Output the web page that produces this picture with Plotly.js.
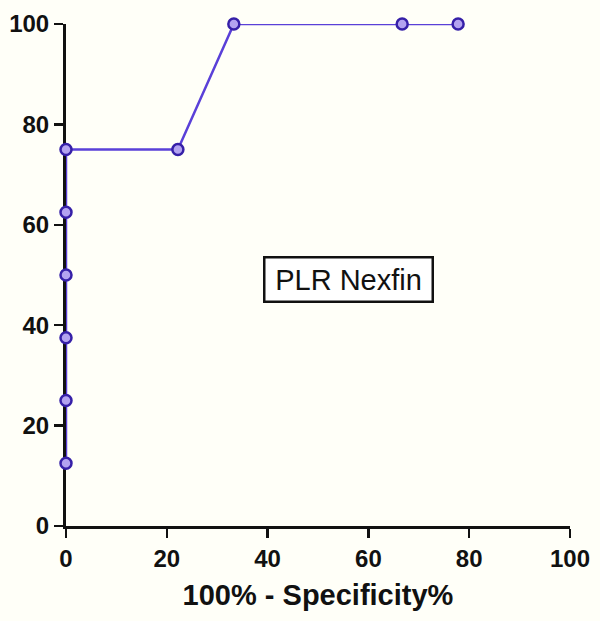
<!DOCTYPE html>
<html>
<head>
<meta charset="utf-8">
<script src="https://cdn.plot.ly/plotly-3.0.1.min.js"></script>
<style>
  html, body { margin: 0; padding: 0; background: #fffff8; }
  #graph { width: 600px; height: 621px; }
</style>
</head>
<body>
<div id="graph"></div>
<script>
// *********************************************************************************************
// DATA

const X_SPEC = [0, 0, 0, 0, 0, 0, 22.2, 33.3, 66.7, 77.8]  // 100% - Specificity%
const Y_SENS = [12.5, 25, 37.5, 50, 62.5, 75, 75, 100, 100, 100]  // Sensitivity%
const TICKS = [0, 20, 40, 60, 80, 100]
const LABEL = 'PLR Nexfin'


// *********************************************************************************************
// TRACE

let trace = {
    type: 'scatter',
    mode: 'lines+markers',
    x: X_SPEC,
    y: Y_SENS,
    cliponaxis: false,
    line: { color: '#5a40d8', width: 2.5 },
    marker: {
        symbol: 'circle',
        size: 11,
        color: '#b3a3f0',
        line: { color: '#3620a8', width: 2.5 }
    },
    hoverinfo: 'skip'
};


// *********************************************************************************************
// LAYOUT

const FONT = 'Liberation Sans, Arial, sans-serif';
const tickFont = { family: FONT, size: 24, color: '#111', weight: 'bold' };

let layout = {
    width: 600,
    height: 621,
    margin: { t: 24, r: 30, b: 95, l: 66 },
    paper_bgcolor: '#fffff8',
    plot_bgcolor: '#fffff8',
    showlegend: false,

    xaxis: {
        range: [0, 100],
        tickvals: TICKS,
        ticks: 'outside',
        ticklen: 9,
        tickwidth: 2.5,
        tickcolor: '#111',
        showline: true,
        linecolor: '#111',
        linewidth: 3,
        showgrid: false,
        zeroline: false,
        layer: 'below traces',
        tickfont: tickFont,
        title: {
            text: '100% - Specificity%',
            font: { family: FONT, size: 29, color: '#111', weight: 'bold' },
            standoff: 14
        }
    },
    yaxis: {
        range: [0, 100],
        tickvals: TICKS,
        ticks: 'outside',
        ticklen: 9,
        tickwidth: 2.5,
        tickcolor: '#111',
        showline: true,
        linecolor: '#111',
        linewidth: 3,
        showgrid: false,
        zeroline: false,
        layer: 'below traces',
        tickfont: tickFont
    },

    annotations: [{
        x: 56,
        y: 49.2,
        xref: 'x',
        yref: 'y',
        text: LABEL,
        showarrow: false,
        width: 156,
        font: { family: FONT, size: 29, color: '#111' },
        bordercolor: '#111',
        borderwidth: 2.5,
        borderpad: 5,
        bgcolor: '#ffffff'
    }]
};


// *********************************************************************************************
// CONFIG / CREATE

const config = { displaylogo: false, displayModeBar: false, staticPlot: true };

Plotly.newPlot('graph', [trace], layout, config);
</script>
</body>
</html>
